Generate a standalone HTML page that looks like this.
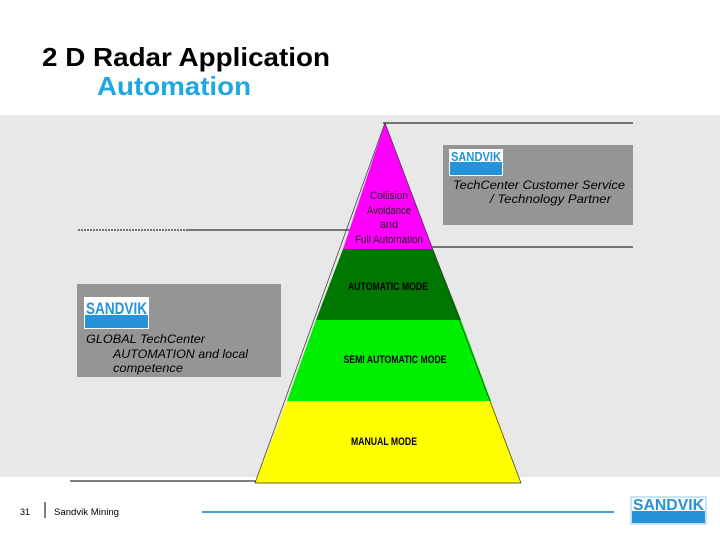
<!DOCTYPE html>
<html><head><meta charset="utf-8"><style>
html,body{margin:0;padding:0;background:#fff;}
svg{display:block;}
text{font-family:"Liberation Sans",sans-serif;}
</style></head><body>
<svg width="720" height="540" viewBox="0 0 720 540" xmlns="http://www.w3.org/2000/svg">
<rect x="0" y="0" width="720" height="540" fill="#fff"/>
<text x="42" y="66" font-size="26" font-weight="bold" fill="#000" textLength="288" lengthAdjust="spacingAndGlyphs">2 D Radar Application</text>
<text x="97" y="95" font-size="26" font-weight="bold" fill="#1ea7e1" textLength="154" lengthAdjust="spacingAndGlyphs">Automation</text>
<rect x="0" y="115" width="720" height="362" fill="#e8e8e8"/>
<line x1="383" y1="123" x2="633" y2="123" stroke="#000" stroke-width="1"/>
<line x1="432" y1="247" x2="633" y2="247" stroke="#000" stroke-width="1"/>
<line x1="78" y1="230" x2="186" y2="230" stroke="#000" stroke-width="1" stroke-dasharray="2,1"/>
<line x1="186" y1="230" x2="352" y2="230" stroke="#000" stroke-width="1"/>
<line x1="70" y1="481" x2="281" y2="481" stroke="#000" stroke-width="1"/>
<polygon points="385,123 433,249 343,249" fill="#ff00ff"/>
<polygon points="343,249 433,249 461,320 316,320" fill="#007700"/>
<polygon points="316,320 461,320 491,401 287,401" fill="#00ee00"/>
<polygon points="287,401 491,401 521,483 255,483" fill="#ffff00"/>
<polygon points="385,123 521,483 255,483" fill="none" stroke="#333" stroke-width="0.7"/>
<g font-size="11" fill="#222" text-anchor="middle">
<text x="389" y="199" textLength="38" lengthAdjust="spacingAndGlyphs">Collision</text>
<text x="389" y="214" textLength="44" lengthAdjust="spacingAndGlyphs">Avoidance</text>
<text x="389" y="228">and</text>
<text x="389" y="243" textLength="68" lengthAdjust="spacingAndGlyphs">Full Automation</text>
</g>
<g font-size="11" fill="#000" font-weight="bold" text-anchor="middle">
<text x="388" y="290" textLength="80" lengthAdjust="spacingAndGlyphs">AUTOMATIC MODE</text>
<text x="395" y="363" textLength="103" lengthAdjust="spacingAndGlyphs">SEMI AUTOMATIC MODE</text>
<text x="384" y="445" textLength="66" lengthAdjust="spacingAndGlyphs">MANUAL MODE</text>
</g>
<rect x="443" y="145" width="190" height="80" fill="#959595"/>
<rect x="449" y="149" width="54" height="27" fill="#fff"/>
<rect x="450" y="162" width="52" height="13" fill="#2693d8"/>
<text x="451" y="161" font-size="13" font-weight="bold" fill="#2693d8" textLength="50" lengthAdjust="spacingAndGlyphs">SANDVIK</text>
<text x="453" y="189" font-size="12" font-style="italic" fill="#000" textLength="172" lengthAdjust="spacingAndGlyphs">TechCenter Customer Service</text>
<text x="490" y="203" font-size="12" font-style="italic" fill="#000" textLength="121" lengthAdjust="spacingAndGlyphs">/ Technology Partner</text>
<rect x="77" y="284" width="204" height="93" fill="#959595"/>
<rect x="84" y="297" width="65" height="32" fill="#fff"/>
<rect x="85" y="315" width="63" height="13" fill="#2693d8"/>
<text x="86" y="314" font-size="17" font-weight="bold" fill="#2693d8" textLength="61" lengthAdjust="spacingAndGlyphs">SANDVIK</text>
<text x="86" y="343" font-size="12" font-style="italic" fill="#000" textLength="119" lengthAdjust="spacingAndGlyphs">GLOBAL TechCenter</text>
<text x="113" y="358" font-size="12" font-style="italic" fill="#000" textLength="135" lengthAdjust="spacingAndGlyphs">AUTOMATION and local</text>
<text x="113" y="372" font-size="12" font-style="italic" fill="#000" textLength="70" lengthAdjust="spacingAndGlyphs">competence</text>
<text x="20" y="515" font-size="9" fill="#000">31</text>
<line x1="45" y1="502" x2="45" y2="518" stroke="#000" stroke-width="1"/>
<text x="54" y="515" font-size="9" fill="#000" textLength="65" lengthAdjust="spacingAndGlyphs">Sandvik Mining</text>
<line x1="202" y1="512" x2="614" y2="512" stroke="#3ba0c8" stroke-width="2"/>
<rect x="631" y="497" width="75" height="27" fill="#fff" stroke="#8fc9ec" stroke-width="1"/>
<rect x="632" y="511" width="73" height="12" fill="#2693d8"/>
<text x="633" y="510" font-size="16" font-weight="bold" fill="#2693d8" textLength="71" lengthAdjust="spacingAndGlyphs">SANDVIK</text>
</svg>
</body></html>
